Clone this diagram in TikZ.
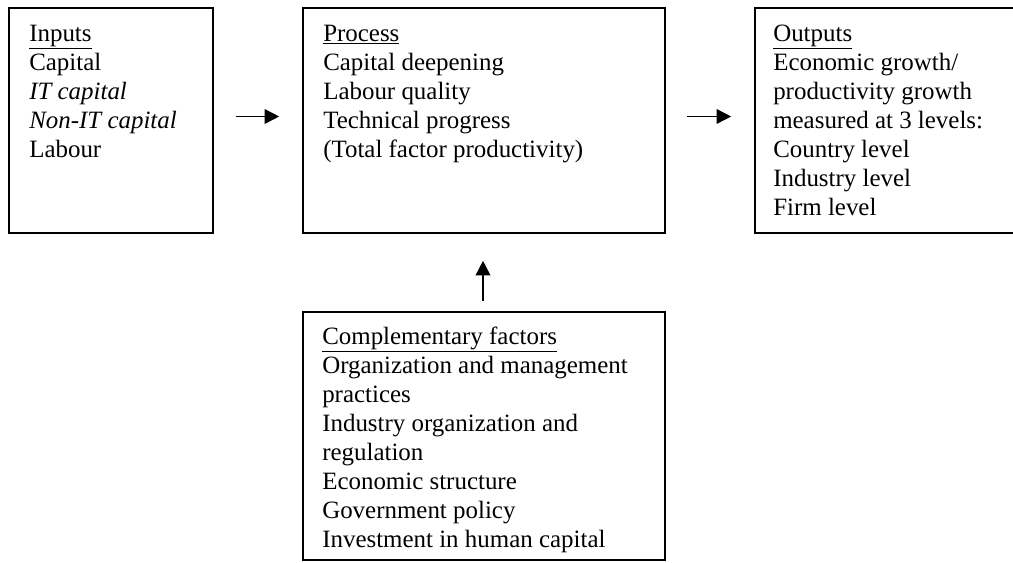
\documentclass[tikz,border=0pt]{standalone}
\usepackage{fontspec}
\setmainfont{Liberation Serif}
\usetikzlibrary{arrows.meta, fit}

\tikzset{
	box/.style = {draw, line width = 1.2pt, inner sep = 0pt},
	txt/.style = {anchor = north west, inner sep = 0pt, align = left, font = \fontsize{18.7}{21.75}\selectfont},
	arr/.style = {-{Triangle[length = 11pt, width = 11pt]}, line width = 1.2pt}
}

\begin{document}
\begin{tikzpicture}[x = 0.75pt, y = -0.75pt]
	\clip (0, 0) rectangle (1013, 563);
	
	\node[box, fit = {(9, 8) (213, 233)}] (inputs) {};
	\node[box, fit = {(303, 8) (665, 233)}] (process) {};
	\node[box, fit = {(755, 8) (1025, 233)}] (outputs) {};
	\node[box, fit = {(303, 312) (665, 560)}] (factors) {};
	
	\node[txt] (inputs-txt) at (29, 24.5) {\underline{Inputs}\\Capital\\\textit{IT capital}\\\textit{Non-IT capital}\\Labour};
	\node[txt] (process-txt) at (323, 24.5) {\underline{Process}\\Capital deepening\\Labour quality\\Technical progress\\(Total factor productivity)};
	\node[txt] (outputs-txt) at (773, 24.5) {\underline{Outputs}\\Economic growth/\\productivity growth\\measured at 3 levels:\\Country level\\Industry level\\Firm level};
	\node[txt] (factors-txt) at (322, 326.5) {\underline{Complementary factors}\\Organization and management\\practices\\Industry organization and\\regulation\\Economic structure\\Government policy\\Investment in human capital};
	
	\draw[arr] ([shift = {(22, -4)}] inputs.east) -- ([shift = {(-23, -4)}] process.west);
	\draw[arr] ([shift = {(21, -4)}] process.east) -- ([shift = {(-23, -4)}] outputs.west);
	\draw[arr] ([shift = {(-1, -10)}] factors.north) -- ([shift = {(-1, 27)}] process.south);
\end{tikzpicture}
\end{document}
